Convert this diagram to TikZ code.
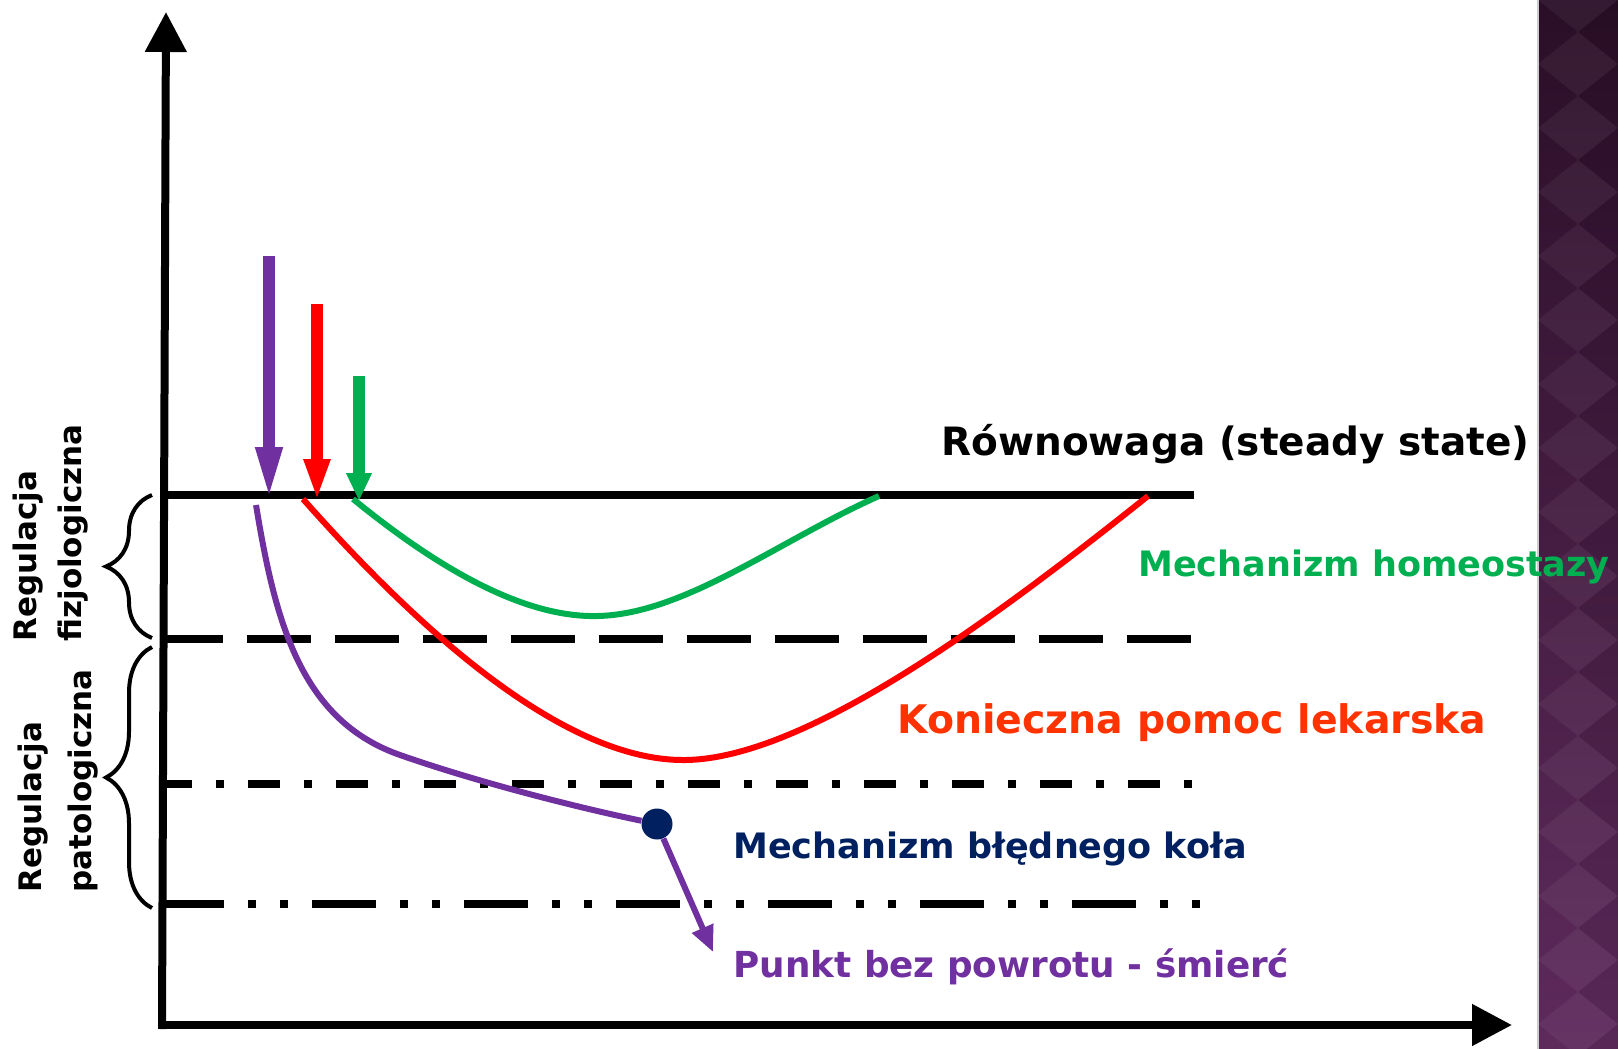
\documentclass[tikz,border=0pt]{standalone}
\usepackage{fontspec}
\setmainfont{DejaVu Sans}
\usepackage{xcolor}
\usepackage{tikz}
\usetikzlibrary{arrows.meta,decorations.pathreplacing,calc}

\definecolor{fiolet}{HTML}{7030A0}
\definecolor{zielony}{HTML}{00B050}
\definecolor{czerwony}{HTML}{FF0000}
\definecolor{pomarancz}{HTML}{FF3300}
\definecolor{granat}{HTML}{002060}
\definecolor{pasekgora}{HTML}{2A0E27}
\definecolor{pasekdol}{HTML}{5E2A5C}

\tikzset{
  os/.style={line width=4pt,-{Triangle[length=20pt,width=20pt]}},
  poziom/.style={line width=4pt},
  krzywa/.style={line width=3pt},
  pion/.style={line width=6pt},
  klamra/.style={line width=2pt,decorate,decoration={brace,amplitude=23pt}},
  napis/.style={font=\bfseries\fontsize{19.5}{23}\selectfont,anchor=base west,inner sep=0pt},
  bok/.style={font=\bfseries\fontsize{15.5}{22.5}\selectfont,rotate=90,anchor=west,align=left,inner sep=0pt},
}

\begin{document}
\begin{tikzpicture}[x=0.5pt,y=-0.5pt]
\useasboundingbox (0,0) rectangle (1618,1049);
% pasek z prawej
\shade[top color=pasekgora,bottom color=pasekdol] (1538,0) rectangle (1618,1049);
\begin{scope}
  \clip (1538,0) rectangle (1618,1049);
  \foreach \k in {0,...,17}{
    \fill[white,opacity=0.05] (1578,64*\k-32) -- (1618,64*\k) -- (1578,64*\k+32) -- (1538,64*\k) -- cycle;
    \fill[black,opacity=0.06] (1618,64*\k) -- (1658,64*\k+32) -- (1618,64*\k+64) -- (1578,64*\k+32) -- cycle;
  }
\end{scope}
\draw[gray!40,line width=1pt] (1538,0) -- (1538,1049);

% osie
\draw[os] (162,1025) -- (1512,1025);
\draw[os] (162,1029) -- (166,12);

% poziomy
\draw[poziom] (165,495) -- (1194,495);
\draw[poziom,dash pattern=on 32pt off 12pt,dash phase=3pt] (165,639) -- (1194,639);
\draw[poziom,dash pattern=on 16pt off 12pt on 4pt off 12pt,dash phase=2.5pt] (165,784) -- (1194,784);
\draw[poziom,dash pattern=on 32pt off 12pt on 4pt off 12pt on 4pt off 12pt,dash phase=2.5pt] (165,904) -- (1202,904);

% strzalki zaburzen
\coordinate (fstart) at (269,256);
\coordinate (fkoniec) at (269,501);
\coordinate (cstart) at (317,304);
\coordinate (ckoniec) at (317,501);
\coordinate (zstart) at (359,376);
\coordinate (zkoniec) at (359,501);
\draw[pion,fiolet,-{Triangle[length=27pt,width=12pt]}] (fstart) -- (fkoniec);
\draw[pion,czerwony,-{Triangle[length=21pt,width=12pt]}] (cstart) -- (ckoniec);
\draw[pion,zielony,-{Triangle[length=14pt,width=12pt]}] (zstart) -- (zkoniec);

% krzywe
\draw[krzywa,zielony] (353,499) .. controls (440,570) and (525,618) .. (598,616)
  .. controls (685,614) and (780,540) .. (879,496);
\draw[krzywa,czerwony] (303,499) .. controls (410,620) and (560,762) .. (686,760)
  .. controls (810,758) and (1005,610) .. (1148,496);
\node[circle,fill=granat,minimum size=15.5pt,inner sep=0pt] (kolo) at (657,824) {};
\draw[krzywa,fiolet] (256,505) .. controls (275,620) and (300,720) .. (400,755)
  .. controls (480,783) and (580,808) .. (kolo);
\coordinate (smierc) at (713,952);
\draw[krzywa,fiolet,-{Triangle[length=13pt,width=11pt]}] (kolo) -- (smierc);

% klamry
\draw[klamra] (152,638) -- (152,495);
\draw[klamra] (152,908) -- (152,647);
\node[bok] (fizjo) at (51,642) {Regulacja\\fizjologiczna};
\node[bok,font=\bfseries\fontsize{15.5}{25}\selectfont] (pato) at (58,893) {Regulacja\\patologiczna};

% opisy
\node[napis] (rownowaga) at (941,455) {Równowaga (steady state)};
\node[napis,zielony,font=\bfseries\fontsize{17.5}{21}\selectfont] (homeo) at (1138,576) {Mechanizm homeostazy};
\node[napis,pomarancz,font=\bfseries\fontsize{19.7}{23}\selectfont] (pomoc) at (897,733) {Konieczna pomoc lekarska};
\node[napis,granat,font=\bfseries\fontsize{17.5}{21}\selectfont] (bledne) at (733,858) {Mechanizm błędnego koła};
\node[napis,fiolet,font=\bfseries\fontsize{17.9}{21}\selectfont] (punkt) at (733,977) {Punkt bez powrotu - śmierć};
\end{tikzpicture}
\end{document}
